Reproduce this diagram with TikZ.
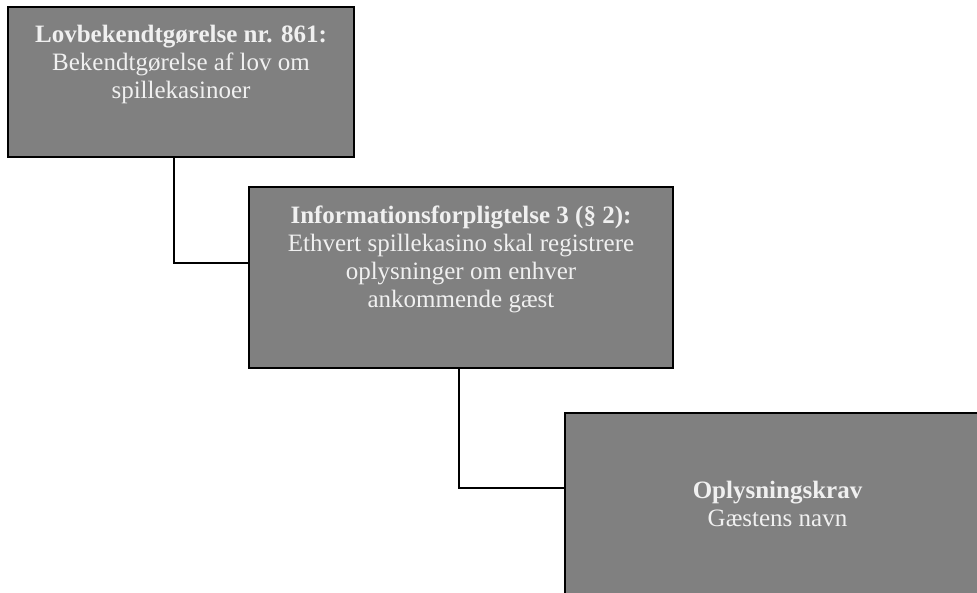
\documentclass[tikz,border=0pt]{standalone}
\usepackage{fontspec}
\setmainfont{Liberation Serif}
\usetikzlibrary{positioning}
\definecolor{boxgray}{HTML}{808080}
\tikzset{box/.style={rectangle, draw=black, line width=1.6pt, fill=boxgray, inner sep=0pt},
  txt/.style={text=white!94!black, align=center, inner sep=0pt, font=\fontsize{25}{28}\selectfont},
  link/.style={draw=black, line width=1.5pt}}

\begin{document}
\begin{tikzpicture}[x=1pt,y=-1pt]
  \useasboundingbox (0,0) rectangle (977,592);
  \clip (0,0) rectangle (977,592);

  \node[box, minimum width=346pt, minimum height=150pt] (law) at (181,82) {};
  \node[box, minimum width=424pt, minimum height=181pt] (duty) at (461,277.5) {};
  \node[box, minimum width=425pt, minimum height=181pt] (req) at (777.5,503.5) {};

  \node[txt, below=19pt of law.north] (lawtxt)
    {\textbf{Lovbekendtgørelse nr. 861:}\\Bekendtgørelse af lov om\\spillekasinoer};
  \node[txt, below=19pt of duty.north] (dutytxt)
    {\textbf{Informationsforpligtelse 3 (§ 2):}\\Ethvert spillekasino skal registrere\\oplysninger om enhver\\ankommende gæst};
  \node[txt] (reqtxt) at (req.center) {\textbf{Oplysningskrav}\\Gæstens navn};

  \draw[link] ([xshift=-7pt]law.south) |- ([yshift=14.5pt]duty.west);
  \draw[link] ([xshift=-2pt]duty.south) |- ([yshift=15.5pt]req.west);
\end{tikzpicture}
\end{document}
